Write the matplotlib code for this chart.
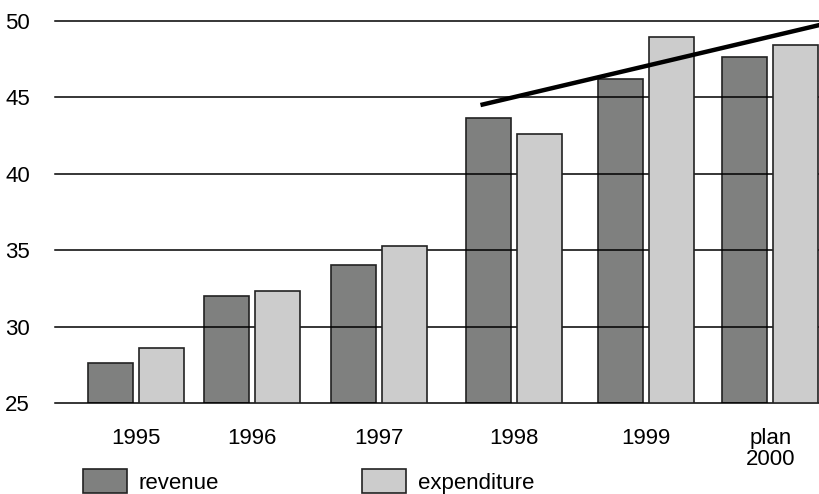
import matplotlib
matplotlib.use("Agg")
from matplotlib import pyplot as plt

plt.rcParams['font.family'] = ['Liberation Sans', 'DejaVu Sans']

years = ['1995', '1996', '1997', '1998', '1999', 'plan\n2000']
revenue = [27.6, 32.0, 34.0, 43.65, 46.2, 47.65]
expenditure = [28.6, 32.3, 35.25, 42.6, 48.95, 48.4]
trend_x = [2.97, 5.9]
trend_y = [44.5, 49.75]

# group centres (uneven spacing as in the original)
pos = [0, 1, 2.095, 3.26, 4.40, 5.47]
w = 0.388
off = 0.22
fs = 16

fig = plt.figure(figsize=(8.2, 4.94), dpi=100)
ax = fig.add_axes([55 / 820, 91 / 494, 765 / 820, 382 / 494])

b1 = ax.bar([p - off for p in pos], [r - 25 for r in revenue], bottom=25, width=w,
            color='#7f807f', edgecolor='#222222', linewidth=1.2, zorder=1, label='revenue')
for y in range(25, 51, 5):
    ax.axhline(y, color='black', linewidth=1.1, zorder=2, clip_on=False)
b2 = ax.bar([p + off for p in pos], [e - 25 for e in expenditure], bottom=25, width=w,
            color='#cccccc', edgecolor='#222222', linewidth=1.2, zorder=3, label='expenditure')
ax.plot(trend_x, trend_y, color='black', linewidth=3.2, zorder=4, clip_on=False,
        solid_capstyle='butt')

ax.set_xlim(-0.698, 5.897)
ax.set_ylim(25, 50)
for s in ax.spines.values():
    s.set_visible(False)
ax.set_yticks(range(25, 51, 5))
ax.tick_params(axis='y', length=0, pad=18, labelsize=fs)
ax.set_xticks(pos)
ax.set_xticklabels(years, va='top', linespacing=1.0)
ax.tick_params(axis='x', length=0, pad=18, labelsize=fs)

leg_opts = dict(loc='lower left', frameon=False, fontsize=fs, handlelength=2.0,
                handleheight=1.25, handletextpad=0.5, borderaxespad=0, borderpad=0)
fig.legend(handles=[b1], bbox_to_anchor=(83 / 820, 0.5 / 494), **leg_opts)
fig.legend(handles=[b2], bbox_to_anchor=(362 / 820, 0.5 / 494), **leg_opts)

fig.savefig('out.png', dpi=100)
